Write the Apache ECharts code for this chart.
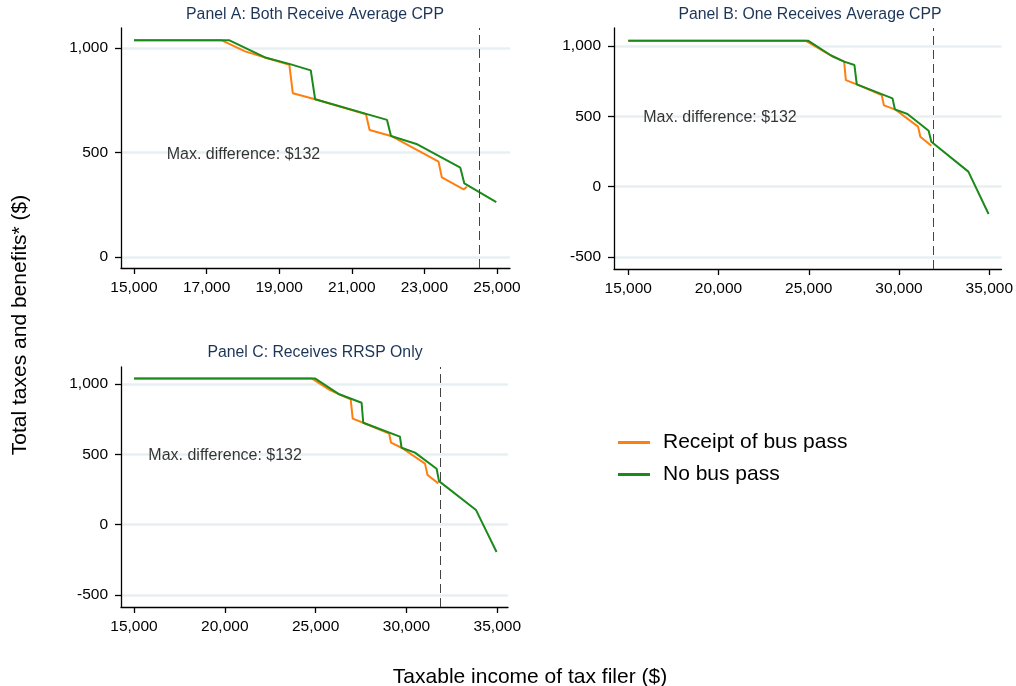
<!DOCTYPE html>
<html>
<head>
<meta charset="utf-8">
<script src="https://cdn.jsdelivr.net/npm/echarts@6/dist/echarts.min.js"></script>
<style>
  html, body { margin: 0; padding: 0; background: #fff; }
  #chart { width: 1016px; height: 686px; }
</style>
</head>
<body>
<div id="chart"></div>
<script>
// Panel A: both receive average CPP
const incomeA_bus = [15000, 17420, 18060, 18610, 19280, 19375, 19990, 21390, 21490, 22080, 23390, 23480, 24080, 24170];
const taxA_bus    = [1037, 1037, 984, 955, 920, 784, 755, 683, 608, 579, 456, 381, 323, 336];
const incomeA_none = [15000, 17630, 18610, 19300, 19870, 19990, 21970, 22080, 22780, 23990, 24100, 24980];
const taxA_none    = [1037, 1037, 955, 923, 893, 755, 656, 579, 541, 427, 352, 262];
const cutoffA = 24520;

// Panel B: one receives average CPP
const incomeB_bus = [15000, 24820, 26190, 26960, 27055, 27660, 29040, 29165, 29770, 31055, 31180, 31790];
const taxB_bus    = [1038, 1038, 936, 889, 758, 727, 652, 578, 550, 427, 355, 291];
const incomeB_none = [15000, 24960, 26280, 26960, 27530, 27660, 29640, 29770, 30470, 31640, 31790, 33840, 34960];
const taxB_none    = [1038, 1038, 929, 889, 865, 727, 628, 550, 517, 398, 320, 107, -194];
const cutoffB = 31910;

// Panel C: receives RRSP only
const incomeC_bus = [15000, 24780, 25790, 26300, 26930, 27040, 27620, 29050, 29150, 29730, 31020, 31160, 31750];
const taxC_bus    = [1040, 1040, 957, 927, 891, 754, 725, 647, 583, 547, 434, 353, 294];
const incomeC_none = [15000, 24960, 26300, 27530, 27620, 29640, 29730, 30470, 31660, 31790, 33830, 34960];
const taxC_none    = [1040, 1040, 927, 867, 725, 626, 547, 512, 398, 310, 104, -194];
const cutoffC = 31860;

const panelTitles = ['Panel A: Both Receive Average CPP', 'Panel B: One Receives Average CPP', 'Panel C: Receives RRSP Only'];
const xTicksA = [15000, 17000, 19000, 21000, 23000, 25000];
const xTicksBC = [15000, 20000, 25000, 30000, 35000];
const yTicksA = [0, 500, 1000];
const yTicksBC = [-500, 0, 500, 1000];
const seriesNames = ['Receipt of bus pass', 'No bus pass'];
const noteText = 'Max. difference: $132';
const notePos = [[15900, 490], [15830, 493], [15790, 490]];

const FONT = '"Liberation Sans", Arial, Helvetica, sans-serif';
const ORANGE = '#ff7f0e';
const GREEN = '#1a8a1a';

const zip = (xs, ys) => xs.map((x, i) => [x, ys[i]]);
const fmt = v => Number(v).toLocaleString('en-US');

const grids = [
  { left: 121, top: 28, width: 389, height: 240 },
  { left: 614, top: 28, width: 390, height: 241 },
  { left: 121, top: 367, width: 387, height: 240 }
];

const xRanges = [[14642, 25358], [14213, 35677], [14285, 35589]];
const yRanges = [[-53, 1096], [-585, 1128], [-585, 1121]];
const xTickSets = [xTicksA, xTicksBC, xTicksBC];
const yTickSets = [yTicksA, yTicksBC, yTicksBC];

const xAxes = grids.map((g, i) => ({
  type: 'value', gridIndex: i, min: xRanges[i][0], max: xRanges[i][1],
  axisLine: { show: true, onZero: false, lineStyle: { color: '#000', width: 1.3 } },
  axisTick: { show: true, length: 6, customValues: xTickSets[i], lineStyle: { color: '#000', width: 1.3 } },
  axisLabel: { customValues: xTickSets[i], formatter: fmt, color: '#000', fontSize: 15.5, fontFamily: FONT, margin: 12 },
  splitLine: { show: false }
}));

const yAxes = grids.map((g, i) => ({
  type: 'value', gridIndex: i, min: yRanges[i][0], max: yRanges[i][1],
  axisLine: { show: true, onZero: false, lineStyle: { color: '#000', width: 1.3 } },
  axisTick: { show: true, length: 6, customValues: yTickSets[i], lineStyle: { color: '#000', width: 1.3 } },
  axisLabel: { customValues: yTickSets[i], formatter: fmt, color: '#000', fontSize: 15.5, fontFamily: FONT, margin: 13 },
  splitLine: { show: true, lineStyle: { color: '#e8eff2', width: 2.5 } }
}));

const panels = [
  [zip(incomeA_bus, taxA_bus), zip(incomeA_none, taxA_none), cutoffA],
  [zip(incomeB_bus, taxB_bus), zip(incomeB_none, taxB_none), cutoffB],
  [zip(incomeC_bus, taxC_bus), zip(incomeC_none, taxC_none), cutoffC]
];

const series = [];
panels.forEach((p, i) => {
  series.push({
    name: seriesNames[0], type: 'line', xAxisIndex: i, yAxisIndex: i,
    data: p[0], showSymbol: false, symbol: 'none', silent: true, animation: false,
    lineStyle: { color: ORANGE, width: 2 }, itemStyle: { color: ORANGE }
  });
  series.push({
    name: seriesNames[1], type: 'line', xAxisIndex: i, yAxisIndex: i,
    data: p[1], showSymbol: false, symbol: 'none', silent: true, animation: false,
    lineStyle: { color: GREEN, width: 2 }, itemStyle: { color: GREEN },
    markLine: {
      silent: true, symbol: 'none', animation: false,
      label: { show: false },
      lineStyle: { color: '#444', width: 1, type: [9, 5] },
      data: [{ xAxis: p[2] }]
    }
  });
  series.push({
    name: 'note' + i, type: 'scatter', xAxisIndex: i, yAxisIndex: i,
    data: [notePos[i]], symbolSize: 0, silent: true, animation: false,
    label: { show: true, position: 'right', distance: 0, formatter: noteText,
      color: '#000', fontSize: 16, fontFamily: FONT }
  });
});

const titleCenters = [[315, 7], [810, 7], [315, 345]];
const chart = echarts.init(document.getElementById('chart'), null, { renderer: 'canvas' });
chart.setOption({
  backgroundColor: '#fff',
  animation: false,
  title: panelTitles.map((t, i) => ({
    text: t, left: titleCenters[i][0], top: titleCenters[i][1], textAlign: 'center', padding: 0,
    textStyle: { color: '#1c3557', fontSize: 15.8, fontWeight: 'normal', fontFamily: FONT }
  })),
  legend: {
    data: seriesNames, orient: 'vertical', left: 613, top: 427,
    icon: 'rect', itemWidth: 32, itemHeight: 3, itemGap: 11,
    selectedMode: false,
    textStyle: { color: '#000', fontSize: 21, fontFamily: FONT, padding: [0, 0, 0, 8] }
  },
  grid: grids,
  xAxis: xAxes,
  yAxis: yAxes,
  series: series,
  graphic: [
    { type: 'text', x: 530, y: 677, silent: true,
      style: { text: 'Taxable income of tax filer ($)', fill: '#000', font: '21px ' + FONT, textAlign: 'center', textVerticalAlign: 'middle' } },
    { type: 'text', x: 20, y: 325, rotation: Math.PI / 2, silent: true,
      style: { text: 'Total taxes and benefits* ($)', fill: '#000', font: '21px ' + FONT, textAlign: 'center', textVerticalAlign: 'middle' } }
  ]
});
</script>
</body>
</html>
